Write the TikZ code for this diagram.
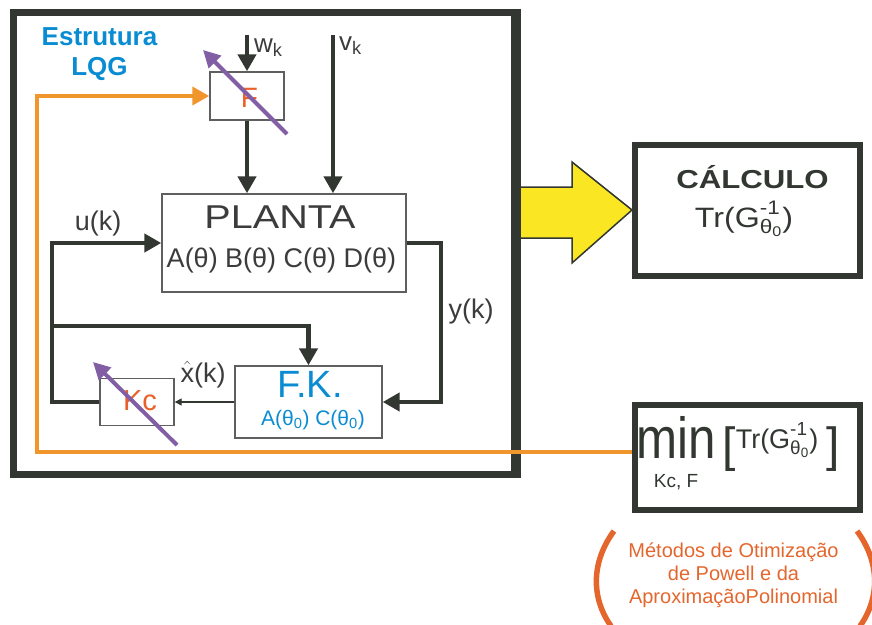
\documentclass[tikz,border=0pt]{standalone}
\usepackage{amsmath}
\usepackage{fontspec}
\setmainfont{Liberation Sans}
\usepackage{tikz}
\usetikzlibrary{arrows.meta}
\definecolor{linegray}{RGB}{50,55,50}
\definecolor{boxgray}{RGB}{95,95,95}
\definecolor{textgray}{RGB}{60,60,60}
\definecolor{lqgblue}{RGB}{10,140,210}
\definecolor{gainred}{RGB}{235,95,40}
\definecolor{loopor}{RGB}{240,150,45}
\definecolor{tunepurple}{RGB}{130,95,165}
\definecolor{bigyellow}{RGB}{250,230,35}
\definecolor{noteor}{RGB}{228,102,45}
\newcommand{\setfs}[1]{\fontsize{#1}{#1}\selectfont}
\tikzstyle{block} = [rectangle, draw=boxgray, line width=1.4pt, inner sep=0pt]
\tikzstyle{bigblock} = [rectangle, draw=linegray, line width=6pt, inner sep=0pt]
\tikzstyle{arrow} = [draw=linegray, line width=4.5pt, -{Triangle[length=17pt,width=18pt]}]
\tikzstyle{thinarrow} = [draw=linegray, line width=1.4pt, -{Triangle[length=7pt,width=7pt]}]
\tikzstyle{tune} = [draw=tunepurple, line width=4pt, -{Triangle[length=17pt,width=17pt]}]
\tikzstyle{feed} = [draw=loopor, line width=4pt, -{Triangle[length=17pt,width=18pt]}]
\tikzstyle{lbl} = [anchor=base, inner sep=0pt, text=textgray]

\begin{document}
\begin{tikzpicture}[x=1pt, y=-1pt]
\useasboundingbox (0,0) rectangle (872,624);

% blocks
\node (lqg) [bigblock, line width=7pt, minimum width=501pt, minimum height=462pt] at (263.5,243) {};
\node (fbox) [block, minimum width=74pt, minimum height=48pt] at (247,96) {};
\node (planta) [block, minimum width=244pt, minimum height=98pt] at (284,243) {};
\node (fk) [block, minimum width=147pt, minimum height=72pt] at (308.5,402) {};
\node (kc) [block, minimum width=74pt, minimum height=47pt] at (137,402) {};
\node (calc) [bigblock, minimum width=225pt, minimum height=131pt] at (747.5,210) {};
\node (minbox) [bigblock, minimum width=225pt, minimum height=105pt] at (747.5,457) {};

% texts (base of multi-line nodes = last line)
\node (lqgtitle) [anchor=base, inner sep=0pt, text=lqgblue, font=\bfseries\fontsize{26}{30}\selectfont, align=center] at (99.5,75) {Estrutura\\LQG};
\node (wlabel) [lbl, anchor=base west] at (254,52) {\setfs{26}w\textsubscript{k}};
\node (vlabel) [lbl, anchor=base west] at (339,50) {\setfs{26}v\textsubscript{k}};
\node (ftext) [lbl, text=gainred] at (249.5,107) {\setfs{28}F};
\node (plantaname) [lbl] at (280,228) {\scalebox{1.2}[1]{\setfs{33}PLANTA}};
\node (plantamat) [lbl] at (281.5,267) {\setfs{27}A(θ) B(θ) C(θ) D(θ)};
\node (ulabel) [lbl] at (98,230) {\setfs{27}u(k)};
\node (ylabel) [lbl] at (471,318) {\setfs{27}y(k)};
\node (xlabel) [lbl] at (203,382) {\setfs{27}$\hat{\text{x}}$(k)};
\node (fkname) [lbl, text=lqgblue] at (310,397) {\setfs{38}F.K.};
\node (fkmat) [lbl, text=lqgblue] at (313,425) {\setfs{21}A(θ\textsubscript{0}) C(θ\textsubscript{0})};
\node (kctext) [lbl, text=gainred] at (140,410) {\setfs{29}Kc};
\node (calcname) [lbl, text=linegray] at (752.5,188) {\scalebox{1.2}[1]{\bfseries\setfs{26}CÁLCULO}};
\node (calctr) [lbl, text=linegray] at (744,227) {\scalebox{1.15}[1]{\setfs{28}$\text{Tr(G}^{\text{-1}}_{\text{θ}_{\text{0}}}\text{)}$}};
\node (mintext) [lbl, text=linegray] at (676,458) {\scalebox{0.85}[1]{\setfs{58}min}};
\node (mintr) [lbl, text=linegray] at (781,461) {\setfs{48}[\raisebox{13pt}{\setfs{27}$\text{Tr(G}^{\text{-1}}_{\text{θ}_{\text{0}}}\text{)}$}\,]};
\node (minsub) [lbl, text=linegray] at (676,487) {\setfs{19}Kc, F};
\node (note) [anchor=base, inner sep=0pt, text=noteor, font=\fontsize{20}{23}\selectfont, align=center] at (733.5,603) {Métodos de Otimização\\de Powell e da\\AproximaçãoPolinomial};

% big arrow to calc
\draw[draw=linegray, line width=1.5pt, fill=bigyellow]
  (lqg.east |- 0,187) -- (572,187) -- (572,162) -- (calc.west) -- (572,263) -- (572,238) -- (lqg.east |- 0,238);
\draw[linegray, line width=7pt] (lqg.north east) -- (lqg.south east);

% plant loop
\coordinate (wtop) at (247,35);
\coordinate (vtop) at (333,35);
\coordinate (ycorner) at (441,320);
\coordinate (ucorner) at (52,320);
\coordinate (ubranch) at (52,326);
\coordinate (orcorner) at (37,300);

\draw[arrow] (wtop) -- (fbox.north);
\draw[arrow] (vtop) -- (vtop |- planta.north);
\draw[arrow] (fbox.south) -- (fbox.south |- planta.north);
\draw[arrow] (planta.east) -| (ycorner) |- (fk.east);
\draw[arrow] (kc.west) -| (ucorner) |- (planta.west);
\draw[arrow] (ubranch) -| (fk.north);
\draw[thinarrow] (fk.west) -- (kc.east);

% optimisation feedback
\draw[feed] ([yshift=5pt]minbox.west) -| (orcorner) |- (fbox.west);

% tuning arrows
\draw[tune] (287,134) -- (203,50);
\draw[tune] (177,445) -- (93,362);

% brackets of the note
\draw[noteor, line width=5.5pt] (614,531) .. controls (591,562) and (591,598) .. (611,626);
\draw[noteor, line width=5.5pt] (857,531) .. controls (880,562) and (880,598) .. (860,626);

\end{tikzpicture}
\end{document}
